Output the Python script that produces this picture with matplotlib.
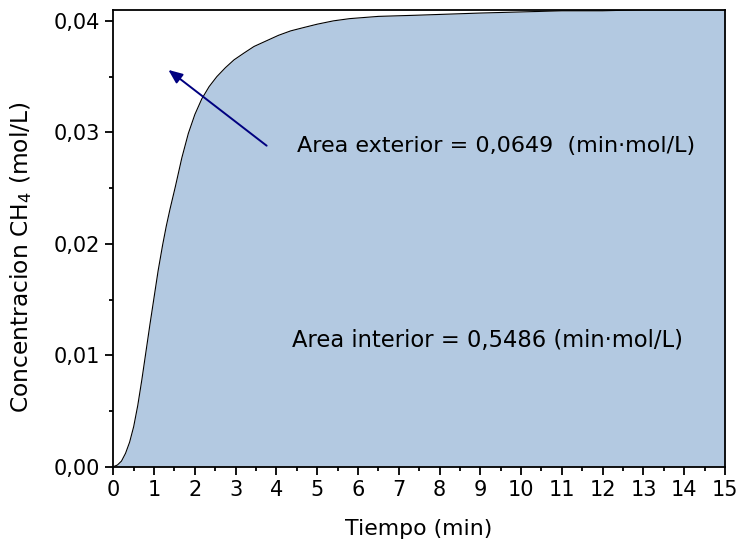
import numpy as np
import matplotlib
matplotlib.use('Agg')
from matplotlib import pyplot as plt
from matplotlib import ticker

plt.rcParams['font.family'] = ['DejaVu Sans']
plt.rcParams['xtick.direction'] = 'out'
plt.rcParams['ytick.direction'] = 'out'

# CH4 concentration curve
tiempo = [0, 0.1, 0.2, 0.3, 0.4, 0.5, 0.6, 0.7, 0.8, 0.9, 1.0, 1.1, 1.21, 1.3,
          1.39, 1.52, 1.68, 1.84, 2.0, 2.17, 2.35, 2.54, 2.75, 2.96, 3.2, 3.45,
          3.75, 4.05, 4.35, 4.67, 5.0, 5.4, 5.8, 6.5, 7.4, 8.2, 9.0, 10.0, 11.0,
          12.0, 13.0, 14.0, 15.0]
conc = [0, 0.00015, 0.0005, 0.0012, 0.0022, 0.0036, 0.0055, 0.0078, 0.0103,
        0.0128, 0.0152, 0.0176, 0.0199, 0.0216, 0.0231, 0.0251, 0.0277, 0.0299,
        0.0316, 0.0330, 0.0341, 0.0350, 0.0358, 0.0365, 0.0371, 0.0377, 0.0382,
        0.0387, 0.0391, 0.0394, 0.0397, 0.0400, 0.0402, 0.0404, 0.0405, 0.0406,
        0.0407, 0.0408, 0.0409, 0.0409, 0.0410, 0.0410, 0.0410]

txt_ext = 'Area exterior = 0,0649  (min\u00b7mol/L)'
txt_int = 'Area interior = 0,5486 (min\u00b7mol/L)'

fig = plt.figure(figsize=(7.41, 5.49), dpi=100)
ax = fig.add_axes([113.3 / 741, 1 - 466.7 / 549, 611.7 / 741, 457 / 549])

ax.fill_between(tiempo, conc, 0, color='#b3c9e1', lw=0)
ax.plot(tiempo, conc, color='black', lw=0.8)

ax.set_xlim(0, 15)
ax.set_ylim(0, 0.0410)

ax.xaxis.set_major_locator(ticker.MultipleLocator(1))
ax.xaxis.set_minor_locator(ticker.MultipleLocator(0.5))
ax.yaxis.set_major_locator(ticker.MultipleLocator(0.01))
ax.yaxis.set_minor_locator(ticker.MultipleLocator(0.005))
ax.yaxis.set_major_formatter(
    ticker.FuncFormatter(lambda v, p: ('%.2f' % v).replace('.', ',')))

ax.tick_params(which='major', length=5.8, width=1.3, labelsize=15, pad=4)
ax.tick_params(which='minor', length=3, width=1.3)
for s in ax.spines.values():
    s.set_linewidth(1.3)

ax.set_xlabel('Tiempo (min)', fontsize=15.8)
ax.set_ylabel('Concentracion CH$_4$ (mol/L)', fontsize=16.8)
ax.xaxis.set_label_coords(0.5, -0.115)
ax.yaxis.set_label_coords(-0.13, 0.458)

ax.annotate('', xy=(1.35, 0.0356), xytext=(3.76, 0.0288),
            arrowprops=dict(arrowstyle='-|>,head_length=0.6,head_width=0.25',
                            color='#000080', lw=1.4, mutation_scale=14,
                            shrinkA=0, shrinkB=0))
ax.text(4.51, 0.0288, txt_ext, fontsize=16, va='center', ha='left')
ax.text(4.39, 0.01128, txt_int, fontsize=16.3, va='center', ha='left')

plt.savefig('out.png', dpi=100)
plt.close()
